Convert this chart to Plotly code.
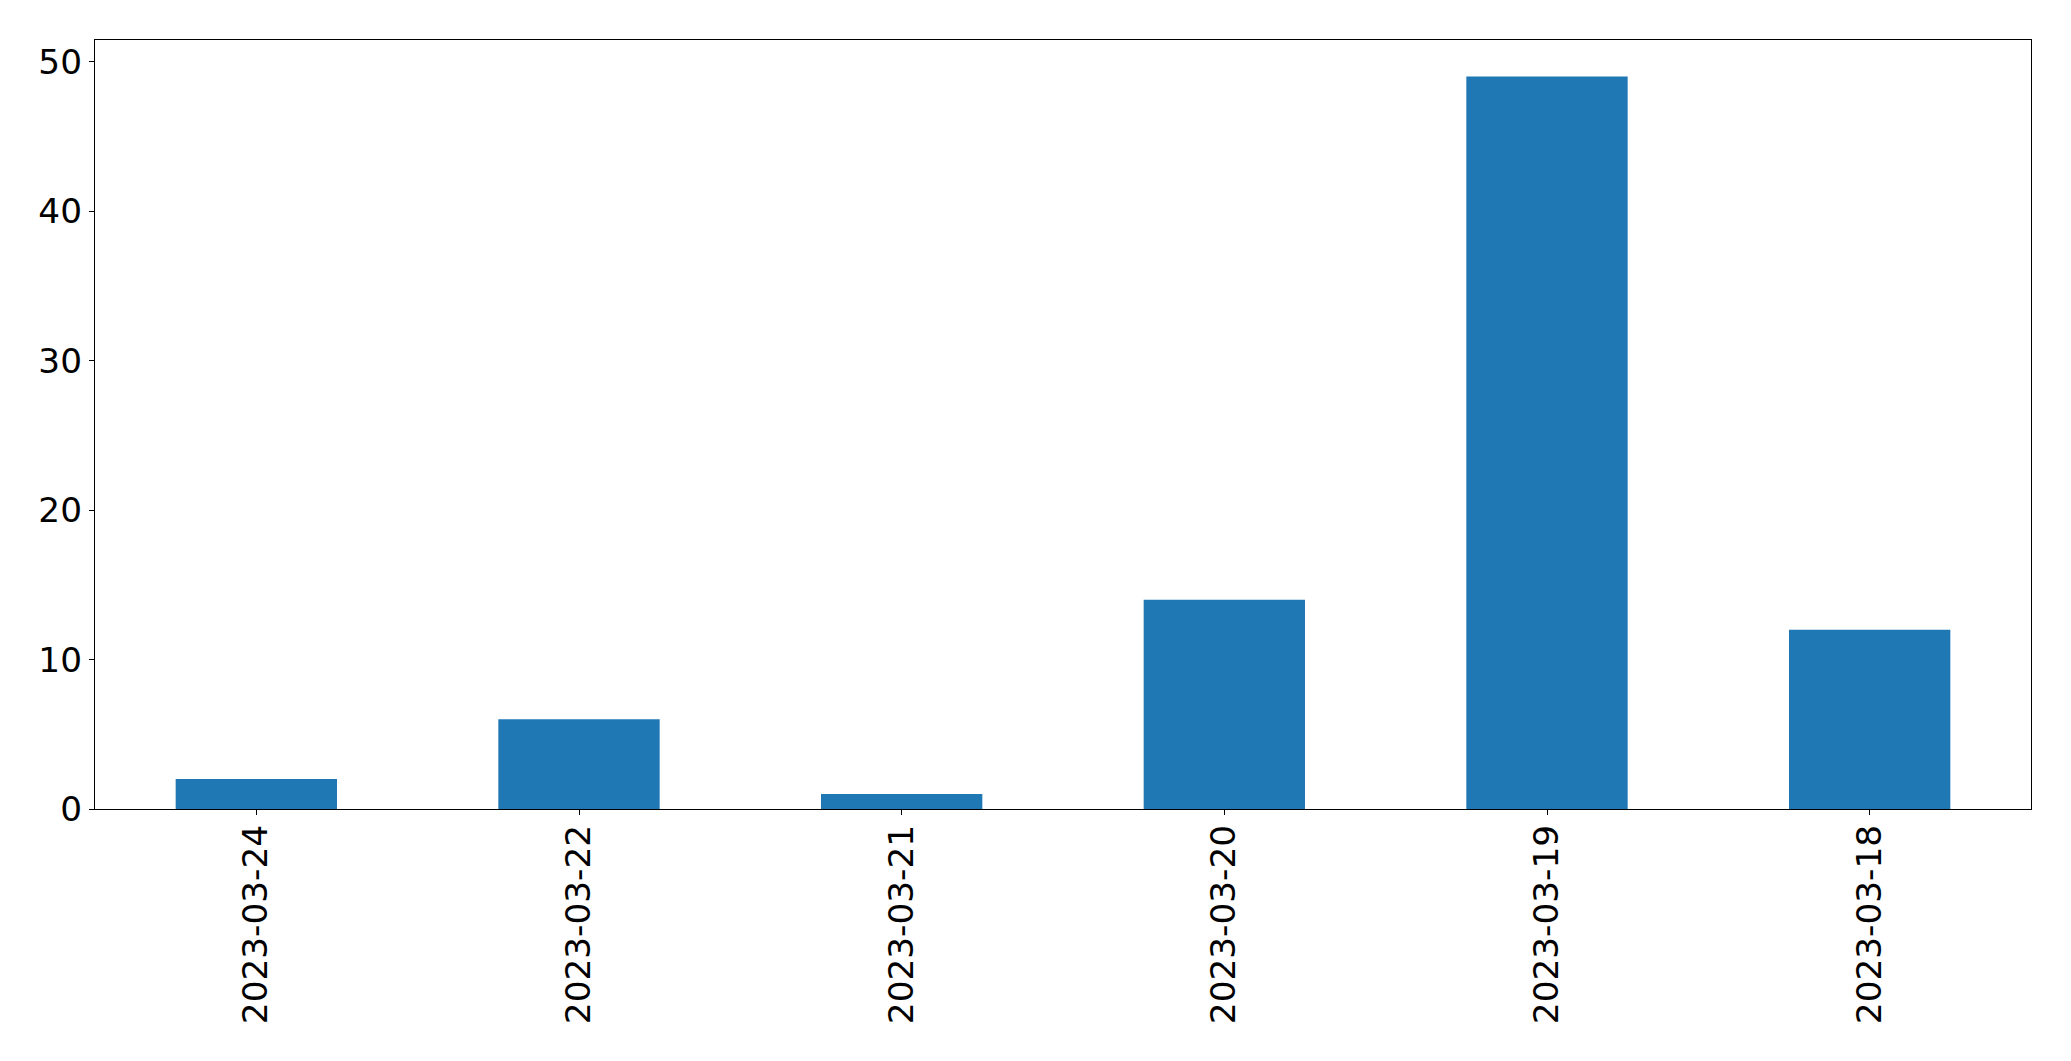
import plotly.graph_objects as go

categories = ["2023-03-24", "2023-03-22", "2023-03-21", "2023-03-20", "2023-03-19", "2023-03-18"]
values = [2, 6, 1, 14, 49, 12]

OFF = 8  # default page body margin
W, H = 2071 - OFF, 1061 - OFF
L, T = 94.5 - OFF, 39.5 - OFF
R = W - (2031 - OFF)
B = H - (809 - OFF)

fig = go.Figure(go.Bar(
    x=list(range(len(categories))),
    y=values,
    width=0.5,
    marker=dict(color="#1f77b4", line=dict(width=0)),
))

font = dict(family="DejaVu Sans", size=34.3, color="black")
fig.update_layout(
    width=W, height=H,
    margin=dict(l=L, r=R, t=T, b=B, pad=0),
    paper_bgcolor="white", plot_bgcolor="white",
    showlegend=False,
    font=font,
)
fig.update_xaxes(
    range=[-0.5, len(categories) - 0.5],
    tickmode="array", tickvals=list(range(len(categories))), ticktext=categories,
    tickangle=-90, ticks="outside", ticklen=5, tickwidth=1.3, tickcolor="black",
    ticklabelstandoff=-4,
    showline=True, linecolor="black", linewidth=1.3, mirror=True,
    showgrid=False, zeroline=False, tickfont=font,
)
fig.update_yaxes(
    range=[0, max(values) * 1.05],
    tickmode="linear", tick0=0, dtick=10,
    ticks="outside", ticklen=5, tickwidth=1.3, tickcolor="black",
    showline=True, linecolor="black", linewidth=1.3, mirror=True,
    showgrid=False, zeroline=False, tickfont=font,
)
fig.write_html("out.html")
